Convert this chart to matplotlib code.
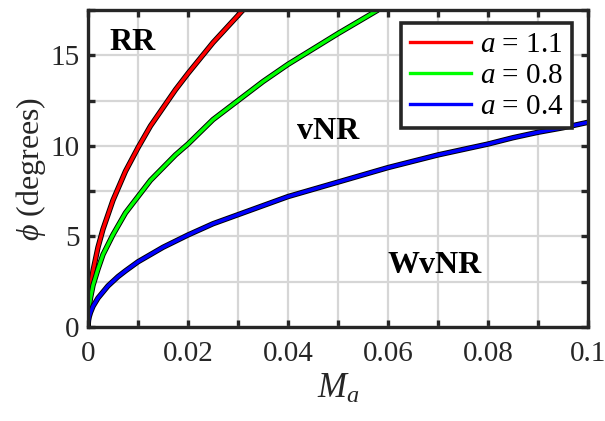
import matplotlib
matplotlib.use('Agg')
import matplotlib.pyplot as plt
import matplotlib.patheffects as pe
from matplotlib.lines import Line2D

# значення
m_red = [0, 0.0001, 0.00025, 0.0005, 0.001, 0.002, 0.003, 0.005, 0.0075, 0.01, 0.0125,
         0.015, 0.0175, 0.02, 0.0225, 0.025, 0.028, 0.031]
phi_red = [0, 1.0, 1.57, 2.2, 3.1, 4.4, 5.4, 7.0, 8.6, 9.9, 11.1,
           12.1, 13.1, 14.0, 14.85, 15.7, 16.6, 17.5]

m_green = [0, 0.0001, 0.00025, 0.0005, 0.001, 0.002, 0.003, 0.005, 0.0075, 0.01, 0.0125,
           0.015, 0.0175, 0.02, 0.025, 0.03, 0.035, 0.04, 0.045, 0.05, 0.054, 0.058]
phi_green = [0, 0.72, 1.14, 1.6, 2.3, 3.2, 4.0, 5.1, 6.3, 7.2, 8.1,
             8.8, 9.5, 10.1, 11.45, 12.5, 13.55, 14.5, 15.35, 16.2, 16.85, 17.5]

m_blue = [0, 0.0001, 0.00025, 0.0005, 0.001, 0.002, 0.004, 0.006, 0.0075, 0.01, 0.0125,
          0.015, 0.02, 0.025, 0.03, 0.035, 0.04, 0.045, 0.05, 0.055, 0.06, 0.065, 0.07,
          0.075, 0.08, 0.085, 0.09, 0.095, 0.1]
phi_blue = [0, 0.36, 0.57, 0.8, 1.14, 1.6, 2.27, 2.78, 3.1, 3.6, 4.0,
            4.4, 5.08, 5.7, 6.2, 6.7, 7.2, 7.6, 8.0, 8.4, 8.8, 9.15, 9.5,
            9.8, 10.1, 10.45, 10.75, 11.0, 11.3]

series = [
    (m_red, phi_red, '#ff0000', r'$a$ = 1.1'),
    (m_green, phi_green, '#00ff00', r'$a$ = 0.8'),
    (m_blue, phi_blue, '#0000ff', r'$a$ = 0.4'),
]

regions = ['RR', 'vNR', 'WvNR']
region_pos = [(0.009, 15.7), (0.048, 10.8), (0.0694, 3.4)]

plt.rcParams['font.family'] = ['Liberation Serif', 'DejaVu Serif']
plt.rcParams['mathtext.fontset'] = 'custom'
plt.rcParams['mathtext.rm'] = 'Liberation Serif'
plt.rcParams['mathtext.it'] = 'Liberation Serif:italic'

fig = plt.figure(figsize=(6.05, 4.21), dpi=100)
ax = fig.add_axes([88 / 605, 1 - 327 / 421, 500 / 605, 317 / 421])

handles = []
for m, phi, color, label in series:
    ax.plot(m, phi, color=color, lw=2.5, solid_capstyle='butt', solid_joinstyle='round',
            path_effects=[pe.Stroke(linewidth=3.9, foreground='black'), pe.Normal()])
    handles.append(Line2D([], [], color=color, lw=2.4, label=label))

for name, (x, y) in zip(regions, region_pos):
    ax.text(x, y, name, fontsize=23, fontweight='bold', ha='center', va='center')

ax.set_xlim(0, 0.1)
ax.set_ylim(0, 17.5)
ax.set_xticks([i * 0.01 for i in range(11)])
ax.set_xticklabels(['0' if i == 0 else ('0.1' if i == 10 else (f'{i * 0.01:.2f}' if i % 2 == 0 else ''))
                    for i in range(11)])
ax.set_yticks([i * 2.5 for i in range(8)])
ax.set_yticklabels([str(int(i * 2.5)) if i % 2 == 0 else '' for i in range(8)])

ax.grid(True, color='#d6d6d6', lw=1.6)
ax.set_axisbelow(True)
for s in ax.spines.values():
    s.set_linewidth(2.4)
    s.set_color('#262626')
ax.tick_params(direction='in', length=5, width=2.4, color='#262626', labelsize=21,
               labelcolor='#262626', top=True, right=True)
ax.tick_params(axis='x', pad=10)
ax.tick_params(axis='y', pad=6)

ax.set_xlabel(r'$M_a$', fontsize=25, color='#262626', labelpad=4)
ax.set_ylabel(r'$\phi$ (degrees)', fontsize=23, color='#262626', labelpad=2)

leg = ax.legend(handles=handles, loc='upper right', fontsize=21, frameon=True, fancybox=False,
                borderpad=0.3, handlelength=2.1, handletextpad=0.3, labelspacing=0.15,
                borderaxespad=0, bbox_to_anchor=(0.968, 0.959))
leg.get_frame().set_edgecolor('#262626')
leg.get_frame().set_linewidth(2.6)
leg.get_frame().set_alpha(1)

fig.savefig('out.png', dpi=100)
